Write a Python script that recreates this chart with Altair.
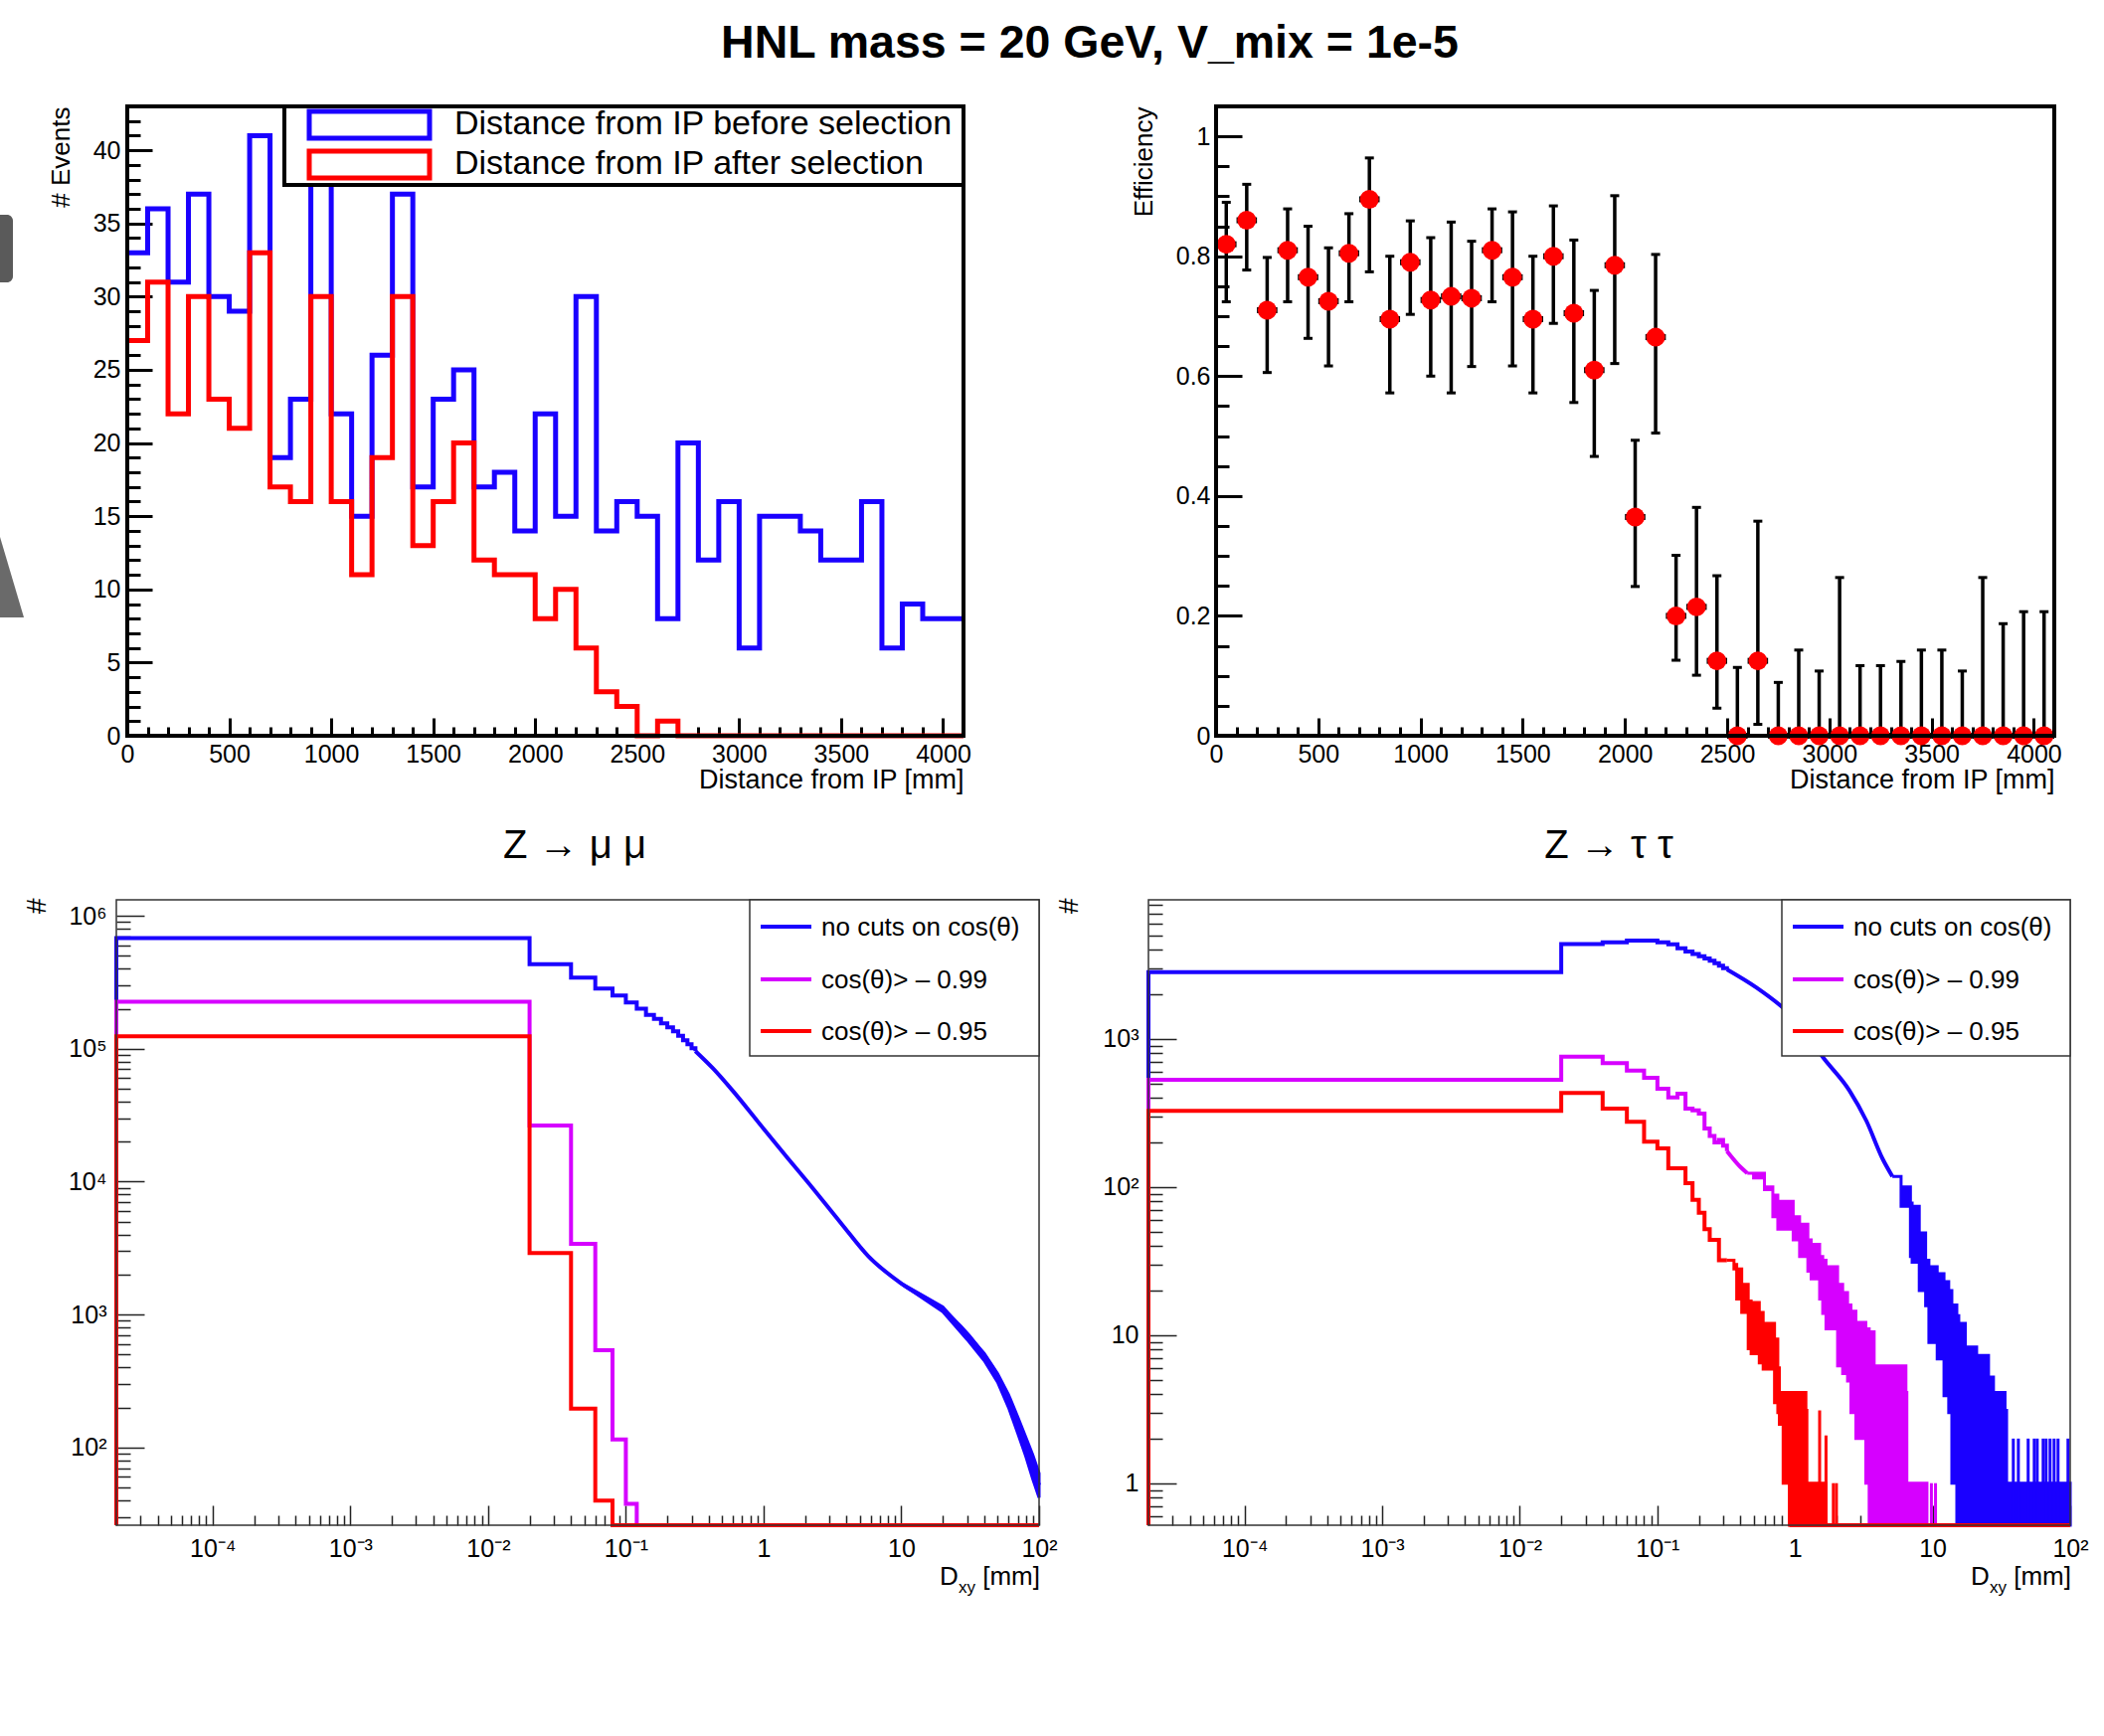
import altair as alt
import pandas as pd

W, H = 2116, 1746
FONT = "Liberation Sans"
BLUE, MAG, RED = "#1a00ff", "#d600ff", "#ff0000"

# ------------------------------------------------------------------ data
# top row: distance from IP, 41 bins of 100 mm
bin_low = [100 * i for i in range(41)]
before_sel = [33, 36, 31, 37, 30, 29, 41, 19, 23, 38, 22, 15, 26, 37, 17, 23, 25, 17, 18, 14,
              22, 15, 30, 14, 16, 15, 8, 20, 12, 16, 6, 15, 15, 14, 12, 12, 16, 6, 9, 8, 8]
after_sel = [27, 31, 22, 30, 23, 21, 33, 17, 16, 30, 16, 11, 19, 30, 13, 16, 20, 12, 11, 11,
             8, 10, 6, 3, 2, 0, 1, 0, 0, 0, 0, 0, 0, 0, 0, 0, 0, 0, 0, 0, 0]
efficiency = [0.82, 0.86, 0.71, 0.81, 0.765, 0.725, 0.805, 0.895, 0.695, 0.79, 0.727, 0.733,
              0.73, 0.81, 0.765, 0.695, 0.80, 0.705, 0.61, 0.785, 0.365, 0.665, 0.20, 0.215,
              0.125, 0.0, 0.125, 0, 0, 0, 0, 0, 0, 0, 0, 0, 0, 0, 0, 0, 0]
eff_low = [0.724, 0.777, 0.606, 0.724, 0.663, 0.617, 0.724, 0.774, 0.572, 0.703, 0.600, 0.572,
           0.616, 0.724, 0.617, 0.572, 0.688, 0.556, 0.466, 0.621, 0.249, 0.505, 0.126, 0.101,
           0.046, 0.0, 0.019, 0, 0, 0, 0, 0, 0, 0, 0, 0, 0, 0, 0, 0, 0]
eff_high = [0.890, 0.920, 0.798, 0.879, 0.850, 0.814, 0.871, 0.964, 0.800, 0.859, 0.831, 0.857,
            0.825, 0.879, 0.874, 0.800, 0.884, 0.827, 0.743, 0.901, 0.493, 0.803, 0.301, 0.381,
            0.267, 0.114, 0.358, 0.089, 0.143, 0.108, 0.264, 0.117, 0.117, 0.124, 0.143, 0.143,
            0.108, 0.264, 0.187, 0.207, 0.207]

dist_ticks = [100 * i for i in range(42)]
dist_major = [0, 500, 1000, 1500, 2000, 2500, 3000, 3500, 4000]
dist_labels = ["0", "500", "1000", "1500", "2000", "2500", "3000", "3500", "4000"]
events_ticks = list(range(44))
events_major = [0, 5, 10, 15, 20, 25, 30, 35, 40]
events_labels = ["0", "5", "10", "15", "20", "25", "30", "35", "40"]
eff_ticks = [round(0.05 * i, 2) for i in range(21)]
eff_major = [0, 0.2, 0.4, 0.6, 0.8, 1.0]
eff_labels = ["0", "0.2", "0.4", "0.6", "0.8", "1"]

# bottom row: D_xy, log axes
DXY_MIN, DXY_MAX = 2e-5, 100
dxy_ticks = [k * 10.0 ** e for e in range(-5, 2) for k in range(1, 10) if 2e-5 <= k * 10.0 ** e <= 100] + [100]
dxy_major = [1e-4, 1e-3, 1e-2, 1e-1, 1, 10, 100]
dxy_labels = ["10⁻⁴", "10⁻³", "10⁻²", "10⁻¹", "1", "10", "10²"]

MM_YMIN, MM_YMAX = 26, 1.32e6
mm_y_ticks = [k * 10.0 ** e for e in range(1, 7) for k in range(1, 10) if 26 <= k * 10.0 ** e <= 1.32e6]
mm_y_major = [1e2, 1e3, 1e4, 1e5, 1e6]
mm_y_labels = ["10²", "10³", "10⁴", "10⁵", "10⁶"]

TT_YMIN, TT_YMAX = 0.52, 8.7e3
tt_y_ticks = [k * 10.0 ** e for e in range(-1, 4) for k in range(1, 10) if 0.52 <= k * 10.0 ** e <= 8.7e3]
tt_y_major = [1, 10, 100, 1000]
tt_y_labels = ["1", "10", "10²", "10³"]

# Z -> mu mu
mm_blue_step_x = [2e-5, 2e-5, 0.02, 0.04, 0.06, 0.08, 0.10, 0.12, 0.14, 0.16, 0.18, 0.20, 0.22,
                  0.24, 0.26, 0.28, 0.30, 0.32]
mm_blue_step_y = [26, 6.8e5, 4.33e5, 3.43e5, 2.84e5, 2.52e5, 2.23e5, 2.0e5, 1.8e5, 1.68e5,
                  1.55e5, 1.45e5, 1.35e5, 1.25e5, 1.16e5, 1.08e5, 1.01e5, 9.6e4]
mm_blue_x = [0.32, 0.43, 0.6, 1.0, 1.5, 2.08, 3.66, 5.75, 10, 19.7, 34.6, 54.3, 76, 100]
mm_blue_y = [9.6e4, 7.1e4, 4.8e4, 2.5e4, 1.5e4, 1.0e4, 4.85e3, 2.75e3, 1.71e3, 1.1e3, 600, 292, 118, 52]
mm_band_x = [10, 20, 30, 40, 50, 60, 70, 80, 90, 100]
mm_band_lo = [1700, 1050, 650, 450, 310, 200, 128, 86, 58, 42]
mm_band_hi = [1720, 1140, 715, 510, 360, 250, 170, 120, 88, 64]
mm_mag_x = [2e-5, 2e-5, 0.02, 0.04, 0.06, 0.08, 0.10, 0.12, 100]
mm_mag_y = [26, 2.26e5, 2.64e4, 3.41e3, 540, 115, 37.7, 26, 26]
mm_red_x = [2e-5, 2e-5, 0.02, 0.04, 0.06, 0.08, 100]
mm_red_y = [26, 1.24e5, 2.9e3, 196, 39.9, 26, 26]

# Z -> tau tau
tt_blue_step_x = [2e-5, 2e-5, 0.02, 0.04, 0.06, 0.08, 0.10, 0.12, 0.14, 0.16, 0.18, 0.20, 0.22,
                  0.24, 0.26, 0.28, 0.30, 0.32]
tt_blue_step_y = [0.52, 2.83e3, 4.38e3, 4.5e3, 4.62e3, 4.62e3, 4.5e3, 4.35e3, 4.1e3, 3.9e3,
                  3.75e3, 3.62e3, 3.5e3, 3.38e3, 3.25e3, 3.12e3, 3.0e3, 2.95e3]
tt_blue_x = [0.32, 0.526, 0.818, 1.0, 1.6, 2.48, 3.3, 4.33, 5.1]
tt_blue_y = [2.95e3, 2.22e3, 1.63e3, 1.4e3, 750, 450, 280, 155, 118]
tt_blue_band_x = [5.1, 5.9, 6.9, 7.1, 8.0, 8.9, 9.4, 10.8, 12.1, 13.1, 13.8, 15.0, 15.5, 17.3,
                  20.9, 25.5, 27.7, 33.6, 34.5, 100]
tt_blue_band_lo = [118, 74, 34, 31, 20, 15.8, 8.9, 6.9, 3.9, 3.0, 1.0, 0.52, 0.52, 0.52, 0.52,
                   0.52, 0.52, 0.52, 0.52, 0.52]
tt_blue_band_hi = [118, 100, 78, 74, 49, 32, 29, 26, 23, 20, 16, 13.5, 12, 8.3, 7.3, 5.2, 4.1,
                   3.1, 1.0, 1.0]
tt_blue_spike_x = [38.6, 42.0, 49.5, 54.8, 57.6, 63.6, 66.8, 71.4, 76.4, 81.6, 96.4]
tt_blue_spike_y = [2, 2, 2, 2, 2, 2, 2, 2, 2, 2, 2]

tt_mag_step_x = [2e-5, 2e-5, 0.02, 0.04, 0.06, 0.08, 0.10, 0.12, 0.14, 0.16, 0.18, 0.20, 0.22,
                 0.24, 0.26, 0.28, 0.30, 0.32]
tt_mag_step_y = [0.52, 530, 760, 686, 612, 547, 461, 402, 427, 339, 330, 313, 248, 221, 200,
                 208, 190, 175]
tt_mag_x = [0.32, 0.40, 0.45]
tt_mag_y = [175, 137, 124]
tt_mag_band_x = [0.45, 0.50, 0.60, 0.69, 0.75, 0.97, 1.08, 1.24, 1.31, 1.51, 1.59, 1.68, 2.04,
                 2.22, 2.41, 2.55, 2.77, 3.27, 3.46, 3.76, 5.1, 6.4, 6.5, 9.1]
tt_mag_band_lo = [124, 115, 96, 63, 52, 44, 34, 27, 24, 17.5, 14, 11, 6.2, 5.5, 4.9, 3.0, 2.0,
                  1.0, 0.52, 0.52, 0.52, 0.52, 0.52, 0.52]
tt_mag_band_hi = [124, 124, 100, 88, 80, 63, 56, 44, 41, 34, 32, 29, 22, 19.4, 16, 14.5, 12.2,
                  11, 10.5, 6.2, 6.2, 4.1, 1.0, 1.0]
tt_mag_spike_x = [9.8, 10.5]
tt_mag_spike_y = [1.0, 1.0]

tt_red_step_x = [2e-5, 2e-5, 0.02, 0.04, 0.06, 0.08, 0.10, 0.12, 0.16, 0.18, 0.20, 0.22, 0.24,
                 0.28, 0.32]
tt_red_step_y = [0.52, 327, 431, 339, 276, 202, 182, 134, 106, 82, 67, 52, 44, 32, 32]
tt_red_band_x = [0.32, 0.36, 0.377, 0.41, 0.457, 0.48, 0.55, 0.587, 0.71, 0.75, 0.77, 0.82,
                 0.91, 1.05, 1.2, 1.22, 1.68]
tt_red_band_lo = [32, 28, 17.5, 14.2, 8.1, 7.5, 6.5, 5.9, 3.5, 3.0, 2.5, 1.0, 0.52, 0.52, 0.52,
                  0.52, 0.52]
tt_red_band_hi = [32, 30, 28, 22, 17, 16.6, 14.2, 12, 9.4, 6.0, 4.1, 4.1, 4.1, 4.1, 3.1, 1.0, 1.0]
tt_red_spike_x = [1.51, 1.68, 1.9, 2.0]
tt_red_spike_y = [3.1, 2.1, 1.0, 1.0]
tt_red_zero_x = [0.91, 100]

legend_top = ["Distance from IP before selection", "Distance from IP after selection"]
legend_bottom = ["no cuts on cos(θ)", "cos(θ)> – 0.99", "cos(θ)> – 0.95"]

# ------------------------------------------------------------------ layout (pixels)
TL_XR, TL_YR = [128, 969], [740, 107]
TR_XR, TR_YR = [1223, 2066], [740, 107]
BL_XR, BL_YR = [117, 1045], [1534, 905]
BR_XR, BR_YR = [1155, 2082], [1534, 905]


def lab_expr(majors, labels, log=False):
    e = "''"
    for v, l in reversed(list(zip(majors, labels))):
        c = f"abs(datum.value/{v!r}-1)<1e-6" if log else f"abs(datum.value-({v!r}))<1e-6"
        e = f"{c} ? '{l}' : ({e})"
    return e


def make_axis(orient, offset, ticks, majors, labels, tmaj, tmin, twidth, lsize, lpad, title,
              tsize=27, tx=0, ty=0, talign="right", tangle=0, log=False, tcolor="black"):
    le = lab_expr(majors, labels, log)
    return alt.Axis(
        orient=orient, offset=offset, values=ticks, domain=False, grid=False, ticks=True,
        tickSize={"expr": f"(({le}) != '') ? {-tmaj} : {-tmin}"},
        tickWidth=twidth, tickColor=tcolor,
        labelExpr=le, labelFont=FONT, labelFontSize=lsize, labelColor="black",
        labelPadding=lpad, labelOverlap=False, labelFlush=False, labelBound=False,
        title=title, titleFont=FONT, titleFontSize=tsize, titleFontWeight="normal",
        titleColor="black", titleX=tx, titleY=ty, titleAlign=talign, titleAngle=tangle,
        titleBaseline="middle",
    )


def enc(scale, axis, kind):
    def f(field):
        if kind == "x":
            return alt.X(f"{field}:Q", scale=scale, axis=axis)
        return alt.Y(f"{field}:Q", scale=scale, axis=axis)
    return f


def step_df(xs, ys):
    return pd.DataFrame({"x": xs, "y": ys, "i": list(range(len(xs)))})


# ------------------------------------------------------------------ top-left
xtl = enc(alt.Scale(type="linear", domain=[0, 4100], range=TL_XR, nice=False, zero=False),
          make_axis("bottom", TL_YR[0] - H, dist_ticks, dist_major, dist_labels, 18, 9, 3, 25, 24,
                    "Distance from IP [mm]", tx=TL_XR[1], ty=44), "x")
ytl = enc(alt.Scale(type="linear", domain=[0, 43], range=TL_YR, nice=False, zero=False),
          make_axis("left", -TL_XR[0], events_ticks, events_major, events_labels, 25, 13, 3, 25, 32,
                    "# Events", tsize=26, tx=61 - TL_XR[0], ty=TL_YR[1], tangle=270), "y")

hist_b = alt.Chart(step_df(bin_low + [4100], before_sel + [before_sel[-1]])).mark_line(
    interpolate="step-after", color=BLUE, strokeWidth=5).encode(x=xtl("x"), y=ytl("y"), order="i:Q")
hist_a = alt.Chart(step_df(bin_low + [4100], after_sel + [after_sel[-1]])).mark_line(
    interpolate="step-after", color=RED, strokeWidth=5).encode(x=xtl("x"), y=ytl("y"), order="i:Q")
frame_tl = alt.Chart(pd.DataFrame([{"x0": 0, "x1": 4100, "y0": 0, "y1": 43}])).mark_rect(
    fillOpacity=0, stroke="black", strokeWidth=4).encode(x=xtl("x0"), x2="x1", y=ytl("y0"), y2="y1")
tl = alt.layer(hist_b, hist_a, frame_tl)

# ------------------------------------------------------------------ top-right
xtr = enc(alt.Scale(type="linear", domain=[0, 4100], range=TR_XR, nice=False, zero=False),
          make_axis("bottom", TR_YR[0] - H, dist_ticks, dist_major, dist_labels, 18, 9, 3, 25, 24,
                    "Distance from IP [mm]", tx=TR_XR[1], ty=44), "x")
ytr = enc(alt.Scale(type="linear", domain=[0, 1.05], range=TR_YR, nice=False, zero=False),
          make_axis("left", -TR_XR[0], eff_ticks, eff_major, eff_labels, 26, 13, 3, 25, 32,
                    "Efficiency", tsize=26, tx=1150 - TR_XR[0], ty=TR_YR[1], tangle=270), "y")
eff_df = pd.DataFrame({
    "x0": bin_low, "x1": [b + 100 for b in bin_low], "xc": [b + 50 for b in bin_low],
    "eff": efficiency, "lo": eff_low, "hi": eff_high})
eff_xerr = alt.Chart(eff_df).mark_rule(color="black", strokeWidth=6).encode(
    x=xtr("x0"), x2="x1", y=ytr("eff"))
eff_yerr = alt.Chart(eff_df).mark_rule(color="black", strokeWidth=3.5).encode(
    x=xtr("xc"), y=ytr("lo"), y2="hi")
eff_cap_hi = alt.Chart(eff_df).mark_tick(orient="horizontal", color="black", thickness=3, size=9,
                                         opacity=1).encode(x=xtr("xc"), y=ytr("hi"))
eff_cap_lo = alt.Chart(eff_df).mark_tick(orient="horizontal", color="black", thickness=3, size=9,
                                         opacity=1).encode(x=xtr("xc"), y=ytr("lo"))
eff_pts = alt.Chart(eff_df).mark_point(filled=True, shape="circle", size=360, color=RED,
                                       opacity=1).encode(x=xtr("xc"), y=ytr("eff"))
frame_tr = alt.Chart(pd.DataFrame([{"x0": 0, "x1": 4100, "y0": 0, "y1": 1.05}])).mark_rect(
    fillOpacity=0, stroke="black", strokeWidth=4).encode(x=xtr("x0"), x2="x1", y=ytr("y0"), y2="y1")
tr = alt.layer(eff_xerr, eff_yerr, eff_cap_hi, eff_cap_lo, eff_pts, frame_tr)


# ------------------------------------------------------------------ bottom panels
def bottom_panel(xr, yr, ydom, yticks, ymaj, ylabs, layers_spec):
    xb = enc(alt.Scale(type="log", domain=[DXY_MIN, DXY_MAX], range=xr, nice=False),
             make_axis("bottom", yr[0] - H, dxy_ticks, dxy_major, dxy_labels, 20, 10, 1.5, 25, 31,
                       "", log=True, tcolor="#222"), "x")
    yb = enc(alt.Scale(type="log", domain=ydom, range=yr, nice=False),
             make_axis("left", -xr[0], yticks, ymaj, ylabs, 28, 14, 1.5, 25, 38, "#", tsize=28,
                       tx=-80, ty=yr[1] - 2, tangle=270, log=True, tcolor="#222"), "y")
    out = []
    for kind, color, data in layers_spec:
        if kind == "step":
            out.append(alt.Chart(step_df(*data)).mark_line(
                interpolate="step-after", color=color, strokeWidth=4).encode(
                x=xb("x"), y=yb("y"), order="i:Q"))
        elif kind == "smooth":
            out.append(alt.Chart(step_df(*data)).mark_line(
                interpolate="monotone", color=color, strokeWidth=4).encode(
                x=xb("x"), y=yb("y"), order="i:Q"))
        elif kind in ("band", "jagged"):
            bx, blo, bhi = data
            interp = "linear" if kind == "band" else "step-after"
            out.append(alt.Chart(pd.DataFrame({"x": bx, "lo": blo, "hi": bhi})).mark_area(
                color=color, opacity=1, stroke=color, strokeWidth=3, interpolate=interp).encode(
                x=xb("x"), y=yb("lo"), y2="hi"))
        elif kind == "spike":
            sx, sy = data
            out.append(alt.Chart(pd.DataFrame({"x": sx, "y": sy, "lo": [ydom[0]] * len(sx)})).mark_rule(
                color=color, strokeWidth=3).encode(x=xb("x"), y=yb("lo"), y2="y"))
        elif kind == "zero":
            zx = data
            out.append(alt.Chart(pd.DataFrame({"x": [zx[0]], "x2": [zx[1]], "y": [ydom[0]]})).mark_rule(
                color=color, strokeWidth=4).encode(x=xb("x"), x2="x2", y=yb("y")))
    frame = alt.Chart(pd.DataFrame([{"x0": DXY_MIN, "x1": DXY_MAX, "y0": ydom[0], "y1": ydom[1]}])).mark_rect(
        fillOpacity=0, stroke="#333", strokeWidth=1.5).encode(x=xb("x0"), x2="x1", y=yb("y0"), y2="y1")
    return alt.layer(*out, frame)


bl = bottom_panel(BL_XR, BL_YR, [MM_YMIN, MM_YMAX], mm_y_ticks, mm_y_major, mm_y_labels, [
    ("step", BLUE, (mm_blue_step_x, mm_blue_step_y)),
    ("smooth", BLUE, (mm_blue_x, mm_blue_y)),
    ("band", BLUE, (mm_band_x, mm_band_lo, mm_band_hi)),
    ("step", MAG, (mm_mag_x, mm_mag_y)),
    ("step", RED, (mm_red_x, mm_red_y)),
])

br = bottom_panel(BR_XR, BR_YR, [TT_YMIN, TT_YMAX], tt_y_ticks, tt_y_major, tt_y_labels, [
    ("step", BLUE, (tt_blue_step_x, tt_blue_step_y)),
    ("smooth", BLUE, (tt_blue_x, tt_blue_y)),
    ("jagged", BLUE, (tt_blue_band_x, tt_blue_band_lo, tt_blue_band_hi)),
    ("spike", BLUE, (tt_blue_spike_x, tt_blue_spike_y)),
    ("step", MAG, (tt_mag_step_x, tt_mag_step_y)),
    ("smooth", MAG, (tt_mag_x, tt_mag_y)),
    ("jagged", MAG, (tt_mag_band_x, tt_mag_band_lo, tt_mag_band_hi)),
    ("spike", MAG, (tt_mag_spike_x, tt_mag_spike_y)),
    ("step", RED, (tt_red_step_x, tt_red_step_y)),
    ("jagged", RED, (tt_red_band_x, tt_red_band_lo, tt_red_band_hi)),
    ("spike", RED, (tt_red_spike_x, tt_red_spike_y)),
    ("zero", RED, tt_red_zero_x),
])

# ------------------------------------------------------------------ decorations (pixel positioned)
PX = dict(scale=None)


def rects(rows, **mk):
    return alt.Chart(pd.DataFrame(rows)).mark_rect(**mk).encode(
        x=alt.X("x:Q", **PX), x2="x2", y=alt.Y("y:Q", **PX), y2="y2")


def texts(rows, **mk):
    return alt.Chart(pd.DataFrame(rows)).mark_text(font=FONT, color="black", **mk).encode(
        x=alt.X("x:Q", **PX), y=alt.Y("y:Q", **PX), text="t:N")


def hlines(rows, width):
    return alt.Chart(pd.DataFrame(rows)).mark_rule(strokeWidth=width).encode(
        x=alt.X("x:Q", **PX), x2="x2", y=alt.Y("y:Q", **PX),
        color=alt.Color("c:N", scale=None))


artifact_rect = rects([{"x": -6, "x2": 13, "y": 216, "y2": 284}], color="#5a5a5a", cornerRadius=6)
artifact_tri = alt.Chart(pd.DataFrame({"x": [0, 24], "y": [540, 621], "y2": [621, 621]})).mark_area(
    color="#6a6a6a").encode(x=alt.X("x:Q", **PX), y=alt.Y("y:Q", **PX), y2="y2")

title = texts([{"x": 1096, "y": 58, "t": "HNL mass = 20 GeV, V_mix = 1e-5"}],
              fontSize=46.5, fontWeight="bold", align="center", baseline="alphabetic")
subtitles = texts([{"x": 578, "y": 863, "t": "Z → μ μ"}, {"x": 1618, "y": 863, "t": "Z → τ τ"}],
                  fontSize=40, align="center", baseline="alphabetic")

# top-left legend
leg_tl_box = rects([{"x": 286, "x2": 969, "y": 107, "y2": 186}], fill="white", stroke="black",
                   strokeWidth=4)
leg_tl_b = rects([{"x": 311, "x2": 432, "y": 112, "y2": 139}], fillOpacity=0, stroke=BLUE,
                 strokeWidth=5)
leg_tl_r = rects([{"x": 311, "x2": 432, "y": 152, "y2": 179}], fillOpacity=0, stroke=RED,
                 strokeWidth=5)
leg_tl_txt = texts([{"x": 457, "y": 135, "t": legend_top[0]}, {"x": 457, "y": 175, "t": legend_top[1]}],
                   fontSize=34, align="left", baseline="alphabetic")

# bottom legends
leg_b_boxes = rects([{"x": 754, "x2": 1045, "y": 905, "y2": 1062},
                     {"x": 1792, "x2": 2082, "y": 905, "y2": 1062}],
                    fill="white", stroke="#333", strokeWidth=1.5)
leg_rows_y = [932, 985, 1037]
leg_cols = [BLUE, MAG, RED]
leg_b_lines = hlines([{"x": x0, "x2": x0 + 51, "y": y, "c": c}
                      for x0 in (765, 1803) for y, c in zip(leg_rows_y, leg_cols)], 4)
leg_b_txt = texts([{"x": x0, "y": y + 1, "t": t}
                   for x0 in (826, 1864) for y, t in zip(leg_rows_y, legend_bottom)],
                  fontSize=26, align="left", baseline="middle")

# D_xy [mm] axis titles
dxy_big = texts([{"x": 945, "y": 1594, "t": "D"}, {"x": 1982, "y": 1594, "t": "D"}],
                fontSize=26, align="left", baseline="alphabetic")
dxy_sub = texts([{"x": 964, "y": 1602, "t": "xy"}, {"x": 2001, "y": 1602, "t": "xy"}],
                fontSize=17, align="left", baseline="alphabetic")
dxy_unit = texts([{"x": 1046, "y": 1594, "t": "[mm]"}, {"x": 2083, "y": 1594, "t": "[mm]"}],
                 fontSize=26, align="right", baseline="alphabetic")

deco = alt.layer(artifact_rect, artifact_tri, title, subtitles, leg_tl_box, leg_tl_b, leg_tl_r,
                 leg_tl_txt, leg_b_boxes, leg_b_lines, leg_b_txt, dxy_big, dxy_sub, dxy_unit)

chart = alt.layer(tl, tr, bl, br, deco).resolve_scale(
    x="independent", y="independent").resolve_axis(
    x="independent", y="independent").properties(
    width=W, height=H, autosize=alt.AutoSizeParams(type="none"), padding=0,
    background="white").configure_view(strokeWidth=0)

chart.save("out.html", embed_options={"renderer": "svg", "actions": False})
